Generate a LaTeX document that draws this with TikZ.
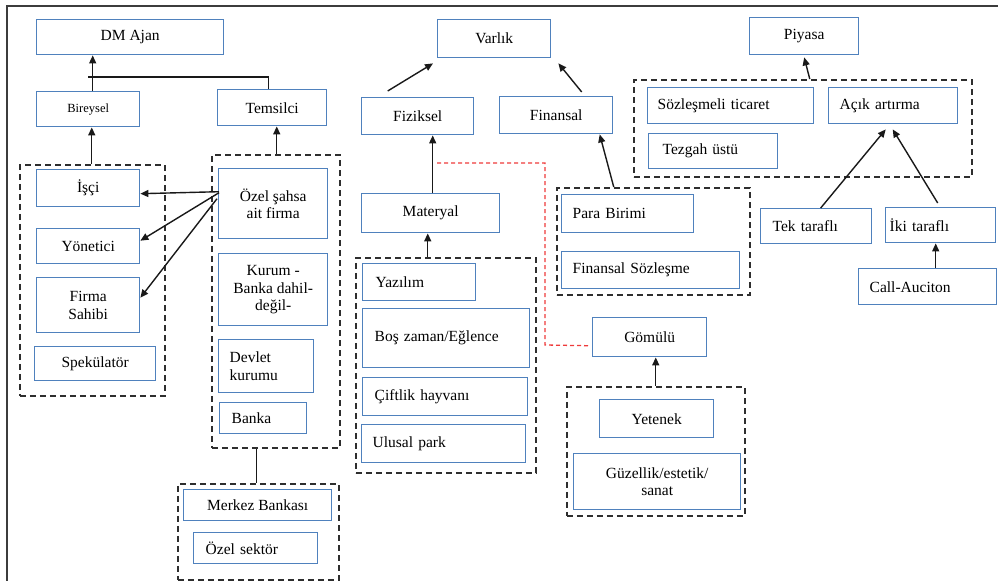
\documentclass[tikz,border=0pt]{standalone}
\usepackage{fontspec}
\setmainfont{Liberation Serif}
\usetikzlibrary{arrows.meta}
\definecolor{boxblue}{HTML}{4F81BD}
\definecolor{grpgray}{HTML}{2E2E2E}
\definecolor{framegray}{HTML}{3C3C3C}
\definecolor{reddash}{HTML}{EE3B3B}
\begin{document}
\begin{tikzpicture}[x=1pt,y=-1pt,
 bx/.style={draw=boxblue, line width=1.4pt, inner sep=0pt, anchor=north west, align=center,
   font=\fontsize{15.5}{17.5}\selectfont, text=black},
 bxl/.style={bx, align=left, inner xsep=#1},
 grp/.style={draw=grpgray, line width=1.5pt, dash pattern=on 6pt off 4pt, inner sep=0pt, anchor=north west},
 arr/.style={draw=black!90, line width=1.4pt, -{Triangle[length=8pt,width=7pt]}},
 ln/.style={draw=black!90, line width=1.4pt},
 rln/.style={draw=reddash, line width=1.3pt, dash pattern=on 4pt off 3pt}
]
\useasboundingbox (0,0) rectangle (998,581);
% outer frame
\draw[framegray, line width=2.5pt] (998,6) -- (7,6) -- (7,581);

% dashed groups
\node[grp, minimum width=145, minimum height=231] (gA) at (19,164) {};
\node[grp, minimum width=128, minimum height=293] (gB) at (211,154) {};
\node[grp, minimum width=161, minimum height=96] (gM) at (177,483) {};
\node[grp, minimum width=180, minimum height=215] (gMat) at (355,257) {};
\node[grp, minimum width=193, minimum height=107] (gFin) at (556,187) {};
\node[grp, minimum width=338, minimum height=97] (gMkt) at (633,79) {};
\node[grp, minimum width=178, minimum height=129] (gGom) at (566,386) {};

% left part
\node[bx, minimum width=187, minimum height=35] (dm) at (36,19) {DM Ajan};
\node[bx, minimum width=103, minimum height=35, font=\fontsize{12.5}{15}\selectfont] (bir) at (36,91) {Bireysel};
\node[bx, minimum width=109, minimum height=36] (tem) at (217,89) {Temsilci};
\node[bx, minimum width=103, minimum height=37] (isci) at (36,169) {İşçi};
\node[bx, minimum width=103, minimum height=35] (yon) at (36,228) {Yönetici};
\node[bx, minimum width=103, minimum height=55] (firma) at (36,277) {Firma\\Sahibi};
\node[bx, minimum width=121, minimum height=34] (spek) at (34,346) {Spekülatör};
\node[bx, minimum width=109, minimum height=70] (oz) at (218,168) {Özel şahsa\\ait firma};
\node[bx, minimum width=109, minimum height=72] (kur) at (218,253) {Kurum -\\Banka dahil-\\değil-};
\node[bxl=11pt, text width=73, minimum height=53] (dev) at (218,339) {Devlet\\kurumu};
\node[bxl=12pt, text width=63, minimum height=31] (banka) at (219,402) {Banka};
\node[bx, minimum width=148, minimum height=31] (merkez) at (183,489) {Merkez Bankası};
\node[bxl=12pt, text width=100, minimum height=31] (ozs) at (193,532) {Özel sektör};

% middle part
\node[bx, minimum width=113, minimum height=38] (var) at (437,19) {Varlık};
\node[bx, minimum width=112, minimum height=37] (fiz) at (361,97) {Fiziksel};
\node[bx, minimum width=113, minimum height=37] (fin) at (499,96) {Finansal};
\node[bx, minimum width=138, minimum height=39] (mat) at (361,193) {Materyal};
\node[bxl=13pt, text width=87, minimum height=37] (yaz) at (362,263) {Yazılım};
\node[bxl=12pt, text width=143, minimum height=59] (bos) at (362,308) {Boş zaman/Eğlence};
\node[bxl=12pt, text width=141, minimum height=38] (cif) at (362,377) {Çiftlik hayvanı};
\node[bxl=11pt, text width=142, minimum height=38] (ulu) at (361,424) {Ulusal park};
\node[bxl=11pt, text width=110, minimum height=38] (para) at (561,194) {Para Birimi};
\node[bxl=11pt, text width=156, minimum height=37] (fsoz) at (561,251) {Finansal Sözleşme};
\node[bx, minimum width=114, minimum height=39] (gom) at (592,317) {Gömülü};
\node[bx, minimum width=114, minimum height=38] (yet) at (599,399) {Yetenek};
\node[bx, minimum width=167, minimum height=56] (guz) at (573,453) {Güzellik/estetik/\\sanat};

% right part
\node[bx, minimum width=109, minimum height=37] (piy) at (749,17) {Piyasa};
\node[bxl=10pt, text width=146, minimum height=36] (soz) at (647,87) {Sözleşmeli ticaret};
\node[bxl=11pt, text width=107, minimum height=36] (acik) at (828,87) {Açık artırma};
\node[bxl=14pt, text width=101, minimum height=35] (tez) at (648,133) {Tezgah üstü};
\node[bxl=12pt, text width=87, minimum height=35] (tek) at (760,208) {Tek taraflı};
\node[bxl=4pt, text width=102, minimum height=35] (iki) at (885,207) {İki taraflı};
\node[bxl=11pt, text width=116, minimum height=36] (call) at (858,268) {Call-Auciton};

% connectors left
\coordinate (j1) at (88,77);
\draw[arr] ([xshift=4.5pt]bir.north) -- ([xshift=4.5pt]bir.north |- dm.south);
\draw[ln] ([xshift=-3.5pt]tem.north) |- (j1);
\draw[arr] ([xshift=-0.5pt]gA.north) -- ([xshift=-0.5pt]gA.north |- bir.south);
\draw[arr] ([xshift=1pt]gB.north) -- ([xshift=1pt]gB.north |- tem.south);
\draw[arr] ([xshift=1pt,yshift=12pt]oz.west) -- ([yshift=-5.5pt]isci.east);
\draw[arr] ([xshift=1pt,yshift=11pt]oz.west) -- ([yshift=5.5pt]isci.east |- yon.east);
\draw[arr] ([xshift=-1pt,yshift=5pt]oz.west) -- ([yshift=7.5pt]firma.east);
\draw[ln] ([xshift=-19pt]gB.south) -- ([xshift=-19pt]gB.south |- gM.north);

% connectors middle
\draw[arr] ([xshift=-30pt,yshift=6pt]fiz.north) -- ([xshift=-4pt,yshift=-5pt]var.south west);
\draw[arr] ([xshift=25.5pt,yshift=4pt]fin.north) -- ([xshift=7pt,yshift=-5pt]var.south east);
\draw[arr] ([xshift=2pt]mat.north) -- ([xshift=2pt]mat.north |- fiz.south);
\draw[arr] ([xshift=-18pt]gMat.north) -- ([xshift=-18pt]gMat.north |- mat.south);
\coordinate (r0) at (437,163);
\coordinate (r1) at (545,345);
\draw[rln] (r0) -| (r1) -- ([xshift=-4pt,yshift=-8.5pt]gom.west);
\draw[arr] ([xshift=-39.5pt]gFin.north) -- ([xshift=43.5pt]fin.south);
\draw[arr] (gGom.north) -- (gGom.north |- gom.south);

% connectors right
\draw[arr] ([xshift=7pt]gMkt.north) -- ([yshift=-2pt]piy.south);
\draw[arr] ([xshift=4.5pt]tek.north) -- ([xshift=-7.5pt,yshift=-5pt]acik.south);
\draw[arr] ([xshift=-3pt,yshift=4pt]iki.north) -- ([xshift=-0.5pt,yshift=-5pt]acik.south);
\draw[arr] ([xshift=8pt]call.north) -- ([xshift=8pt]call.north |- iki.south);
\end{tikzpicture}
\end{document}
